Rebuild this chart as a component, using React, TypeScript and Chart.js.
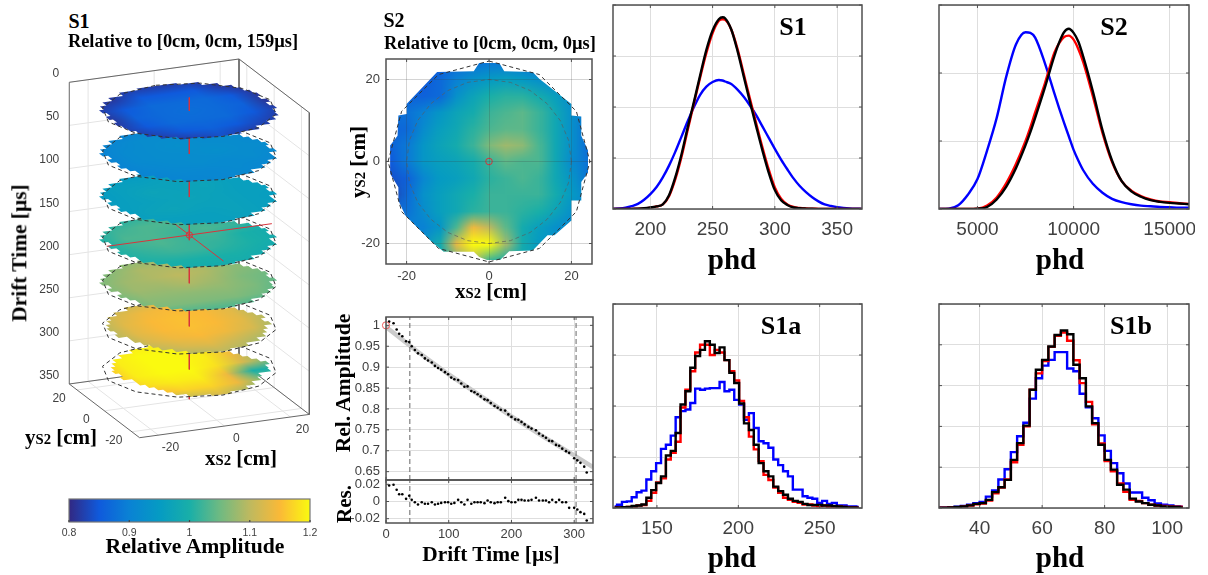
import React, { useEffect, useRef } from "react";
import { Chart, registerables } from "chart.js";

Chart.register(...registerables);

// ---------- colour map (relative amplitude -> colour) ----------
const cmapLevels = [0.8, 0.85, 0.9, 0.95, 1.0, 1.05, 1.1, 1.15, 1.2];
const cmapColors = [
  [50, 40, 130], [15, 90, 220], [10, 130, 212], [5, 155, 195], [25, 175, 168],
  [110, 186, 130], [190, 185, 95], [250, 185, 55], [250, 250, 15],
];

// ---------- top histogram S1 ----------
const s1Phd = [170,175,180,185,190,195,200,205,210,215,220,225,230,235,240,245,250,255,258,260,265,270,275,280,285,290,295,300,305,310,315,320,325,330,335,340,345,350,355,360,365,370];
const s1Black = [0,0,0,.003,.006,.015,.03,.05,.09,.27,.62,1.07,1.6,2.1,2.62,3.12,3.5,3.72,3.76,3.74,3.52,3.1,2.6,2.1,1.62,1.15,.72,.37,.17,.08,.03,.015,.008,.004,.002,0,0,0,0,0,0,0];
const s1Red = [0,0,0,.002,.005,.012,.028,.05,.09,.25,.58,1.02,1.55,2.07,2.58,3.06,3.45,3.69,3.72,3.71,3.52,3.14,2.65,2.16,1.68,1.21,.78,.42,.2,.09,.04,.02,.01,.005,.003,.001,0,0,0,0,0,0];
const s1Blue = [.003,.01,.025,.055,.1,.18,.29,.43,.62,.85,1.12,1.42,1.72,2.0,2.24,2.4,2.49,2.53,2.52,2.5,2.45,2.34,2.2,2.03,1.84,1.62,1.4,1.18,.97,.78,.6,.45,.33,.23,.15,.09,.06,.035,.02,.01,.005,.003];

// ---------- top histogram S2 ----------
const s2Phd = [3000,3500,4000,4500,5000,5500,6000,6500,7000,7500,7750,8000,8500,9000,9250,9500,9750,10000,10250,10500,11000,11500,12000,12500,13000,13500,14000,14500,15000,15500,16000];
const s2Black = [0,0,0,0,.005,.03,.14,.33,.6,.94,1.13,1.34,1.78,2.25,2.45,2.6,2.65,2.59,2.46,2.24,1.73,1.16,.71,.41,.26,.18,.13,.105,.09,.08,.07];
const s2Red = [0,0,0,0,.005,.05,.17,.38,.66,1.0,1.2,1.42,1.84,2.3,2.44,2.53,2.55,2.49,2.35,2.16,1.66,1.12,.69,.41,.27,.19,.14,.11,.1,.085,.075];
const s2Blue = [0,.005,.055,.21,.44,.86,1.34,1.95,2.42,2.6,2.59,2.52,2.15,1.7,1.48,1.27,1.07,.87,.71,.57,.37,.24,.15,.1,.07,.05,.04,.03,.025,.02,.02];

// ---------- bottom histogram S1a ----------
const s1aBins = [124,127,130,133,136,139,142,145,148,151,154,157,160,163,166,169,172,175,178,181,184,187,190,193,196,199,202,205,208,211,214,217,220,223,226,229,232,235,238,241,244,247,250,253,256,259,262,265,268,271,274];
const s1aBlack = [.01,.01,.015,.02,.04,.05,.07,.2,.35,.49,.62,1.03,1.12,1.47,2.03,2.29,2.75,2.98,3.1,3.27,3.2,3.04,3.15,2.9,2.65,2.45,2.05,1.66,1.53,1.24,.88,.72,.62,.42,.33,.26,.18,.14,.12,.08,.06,.06,.06,.05,.05,.04,.03,.02,.01,.01,.005];
const s1aRed = [.01,.01,.01,.02,.03,.05,.06,.14,.3,.5,.58,.95,1.08,1.3,1.97,2.32,2.68,3.05,3.2,3.2,3.0,3.1,3.05,2.9,2.68,2.5,2.1,1.78,1.4,1.15,.92,.65,.55,.4,.3,.2,.16,.12,.1,.07,.07,.05,.04,.05,.03,.03,.03,.02,.01,.01,.005];
const s1aBlue = [.03,.065,.12,.13,.21,.31,.34,.56,.72,.88,1.16,1.24,1.42,1.78,1.9,1.93,2.06,2.34,2.32,2.34,2.35,2.35,2.47,2.29,2.32,2.12,2.03,1.73,1.86,1.57,1.31,1.27,1.18,.95,.84,.72,.62,.36,.36,.23,.2,.18,.1,.14,.08,.1,.05,.05,.03,.03,.02];

// ---------- bottom histogram S1b ----------
const s1bBins = [27,29,31,33,35,37,39,41,43,45,47,49,51,53,55,57,59,61,63,65,67,69,71,73,75,77,79,81,83,85,87,89,91,93,95,97,99,101,103,105];
const s1bBlack = [.01,.01,.015,.025,.04,.065,.1,.12,.2,.39,.51,.69,1.18,1.59,2.02,2.9,3.39,3.63,3.96,4.24,4.35,4.26,3.51,3.18,2.49,2.08,1.55,1.18,.94,.57,.45,.23,.16,.12,.08,.06,.04,.03,.025,.015];
const s1bRed = [.01,.01,.015,.02,.04,.06,.09,.11,.18,.36,.5,.7,1.12,1.55,2.0,2.9,3.3,3.6,3.95,4.22,4.3,4.1,3.62,3.06,2.6,2.05,1.58,1.15,.9,.6,.4,.2,.17,.12,.08,.06,.05,.04,.03,.03];
const s1bBlue = [.01,.01,.02,.03,.05,.08,.12,.15,.28,.43,.7,.95,1.37,1.76,2.09,2.68,3.18,3.49,3.63,3.82,3.82,3.42,3.35,2.8,2.47,2.2,1.78,1.4,1.1,.85,.6,.38,.38,.25,.19,.11,.08,.06,.04,.03];

// ---------- relative amplitude vs drift time ----------
const driftTimes = [5,12,17,21,26,32,37,41,46,51,57,62,67,73,78,83,88,94,99,104,109,115,120,125,130,136,141,146,151,157,162,167,173,178,183,190,195,200,206,211,216,221,227,232,239,244,250,255,260,265,271,276,281,287,292,300,305,310,316,320];
const relAmplitude = [1.009,1.005,.99,.98,.974,.962,.96,.95,.941,.933,.929,.921,.916,.911,.903,.898,.894,.888,.883,.875,.871,.869,.861,.853,.854,.843,.84,.835,.83,.823,.821,.814,.807,.803,.798,.796,.787,.781,.775,.774,.769,.763,.757,.753,.749,.741,.736,.731,.724,.723,.714,.712,.705,.699,.695,.682,.677,.671,.662,.648];
const residuals = [.0186,.0194,.0136,.0085,.0085,.0031,.0066,.0019,-.0008,-.0035,-.0008,-.0027,-.0027,-.0008,-.0035,-.0027,-.0016,-.0008,-.0008,-.0027,-.0016,.0019,-.0008,-.0035,.0019,-.0027,-.0008,-.0008,-.0008,-.0019,.0012,-.0008,-.0019,-.0008,-.0008,.0043,.0004,-.0008,-.0008,.0019,.0019,.0012,.0012,.0019,.0043,.0012,.0012,.0012,-.0008,.0019,-.0008,.0019,-.0008,-.0008,-.0074,-.0074,-.0093,-.0124,-.0144,-.0221];
const fitTimes = [0,25,50,100,150,200,250,300,330];
const fitValues = [.996,.967,.9375,.8825,.832,.782,.7345,.689,.661];
const cutTimes = [38,303];

// ---------- S2 map (rows y = 24 .. -24, cols x = -24 .. 24) ----------
const mapAxis = [-24,-20,-16,-12,-8,-4,0,4,8,12,16,20,24];
const s2Map = [
  [.85,.85,.85,.85,.87,.88,.89,.89,.88,.87,.88,.9,.9],
  [.85,.85,.85,.87,.9,.93,.95,.96,.95,.93,.91,.9,.9],
  [.86,.86,.86,.87,.93,.97,1.0,1.01,1.01,.99,.96,.92,.9],
  [.88,.88,.9,.94,.97,.99,1.02,1.03,1.04,1.02,.98,.93,.88],
  [.86,.87,.92,.96,.98,1.01,1.03,1.04,1.04,1.02,.98,.93,.87],
  [.86,.89,.94,.97,.99,1.02,1.06,1.08,1.07,1.03,.98,.93,.87],
  [.85,.89,.94,.96,.97,.99,1.02,1.04,1.03,1.03,.98,.92,.88],
  [.84,.86,.91,.95,.96,.98,1.01,1.02,1.03,1.02,.98,.94,.88],
  [.82,.87,.93,.96,.98,1.0,1.02,1.02,1.02,1.02,.99,.95,.9],
  [.87,.88,.92,.96,.98,1.01,1.02,1.02,1.01,1.0,.97,.93,.9],
  [.9,.9,.9,.94,1.03,1.14,1.1,1.04,.99,.96,.93,.91,.9],
  [.92,.92,.93,.99,1.13,1.2,1.2,1.08,.99,.95,.93,.92,.92],
  [.95,.95,.95,.97,1.05,1.1,1.02,1.0,.98,.97,.95,.95,.95],
];
const s2BoundaryX = [-2.4,2.5,3.7,10.6,12.2,20,20,22.4,22.4,24.4,24.4,22.4,22.4,20,20,15.9,14.2,10.6,4.9,2.7,0,-2.4,-3.7,-11,-13.8,-20.3,-22,-22,-24,-24,-22.2,-22,-20,-20,-12.6,-3.7];
const s2BoundaryY = [24,24,22,21.8,20.2,14,11.2,11,6.3,1.9,-2.2,-5,-9.5,-9.5,-14.4,-18,-18,-21.7,-21.9,-24,-24.2,-23.3,-22,-22,-19.7,-13.2,-9.5,-6.3,-3,3.9,6.3,11.2,11.6,14,21.8,22];
const tpcOutlineX = [0,12.25,21.2,24.5,21.2,12.25,0,-12.25,-21.2,-24.5,-21.2,-12.25,0];
const tpcOutlineY = [24.5,21.2,12.25,0,-12.25,-21.2,-24.5,-21.2,-12.25,0,12.25,21.2,24.5];
const wallCircleX = [20,19.3,17.3,14.1,10,5.2,0,-5.2,-10,-14.1,-17.3,-19.3,-20,-19.3,-17.3,-14.1,-10,-5.2,0,5.2,10,14.1,17.3,19.3,20];
const wallCircleY = [0,5.2,10,14.1,17.3,19.3,20,19.3,17.3,14.1,10,5.2,0,-5.2,-10,-14.1,-17.3,-19.3,-20,-19.3,-17.3,-14.1,-10,-5.2,0];

// ---------- S1 slices (rows y = 24 .. -24, cols x = -24 .. 24) ----------
const sliceTimes = [15.5,65.5,115.5,165.5,215.5,265.5,315.5];
const sliceAxis = [-24,-16,-8,0,8,16,24];
const slice1 = [
  [.81,.81,.82,.82,.82,.81,.81],[.81,.82,.85,.85,.85,.82,.81],[.82,.85,.87,.87,.87,.85,.81],[.81,.86,.87,.875,.87,.86,.81],[.82,.85,.87,.87,.87,.85,.82],[.81,.83,.85,.86,.85,.83,.81],[.81,.81,.82,.84,.82,.81,.81],
];
const slice2 = [
  [.9,.9,.9,.91,.91,.91,.91],[.9,.91,.92,.92,.92,.92,.91],[.9,.915,.92,.925,.92,.92,.91],[.9,.915,.92,.92,.925,.92,.92],[.9,.91,.915,.92,.915,.92,.91],[.9,.905,.91,.91,.915,.91,.91],[.9,.9,.905,.91,.91,.91,.91],
];
const slice3 = [
  [.95,.95,.95,.96,.96,.96,.96],[.95,.96,.96,.965,.965,.96,.96],[.95,.96,.97,.965,.97,.96,.96],[.955,.96,.965,.97,.965,.96,.96],[.95,.965,.97,.965,.965,.96,.955],[.955,.96,.96,.96,.965,.96,.96],[.95,.95,.96,.96,.96,.96,.96],
];
const slice4 = [
  [1.0,1.0,1.01,1.02,1.02,1.01,1.0],[1.0,1.02,1.03,1.03,1.02,1.01,1.0],[1.0,1.03,1.03,1.02,1.03,1.02,1.0],[1.0,1.02,1.03,1.02,1.02,1.0,.99],[1.0,1.01,1.02,1.02,1.01,1.0,.99],[.99,1.0,1.0,1.0,1.0,.99,.98],[.98,.99,.99,.99,.99,.98,.98],
];
const slice5 = [
  [1.05,1.06,1.07,1.08,1.08,1.06,1.05],[1.05,1.07,1.09,1.09,1.09,1.07,1.05],[1.06,1.08,1.09,1.1,1.09,1.07,1.06],[1.06,1.08,1.08,1.09,1.08,1.06,1.05],[1.05,1.07,1.07,1.07,1.07,1.06,1.04],[1.04,1.06,1.06,1.06,1.06,1.05,1.03],[1.01,1.02,1.03,1.03,1.03,1.02,1.01],
];
const slice6 = [
  [1.09,1.1,1.11,1.13,1.13,1.11,1.09],[1.09,1.12,1.14,1.15,1.15,1.13,1.09],[1.09,1.13,1.15,1.155,1.15,1.13,1.09],[1.09,1.13,1.15,1.155,1.15,1.13,1.09],[1.08,1.12,1.14,1.15,1.14,1.12,1.08],[1.07,1.1,1.12,1.13,1.11,1.09,1.06],[1.06,1.08,1.09,1.1,1.09,1.06,1.05],
];
const slice7 = [
  [1.14,1.17,1.19,1.19,1.18,1.14,1.1],[1.15,1.19,1.2,1.2,1.19,1.16,1.1],[1.15,1.19,1.2,1.2,1.19,1.14,1.08],[1.15,1.19,1.2,1.2,1.18,1.12,1.06],[1.14,1.18,1.19,1.19,1.14,1.0,1.0],[1.08,1.15,1.17,1.17,1.14,1.06,1.02],[1.0,1.06,1.1,1.12,1.08,1.04,1.02],
];
const sliceMaps = [slice1, slice2, slice3, slice4, slice5, slice6, slice7];

// rows of the detector mask: y = 24, 21, ... -24 (3 cm bands), right and left edge of each row
const maskRows = [24,21,18,15,12,9,6,3,0,-3,-6,-9,-12,-15,-18,-21,-24];
const sliceRight = [
  [6,12,16.5,19.5,21,22.5,23.5,22.5,24,22.5,23.5,22,21.5,19.5,16.5,12,6],
  [4.5,7.5,10.5,13.5,16.5,19.5,21,22.5,23.5,22.5,23.5,21,21,18,15,10.5,4.5],
  [4.5,7.5,10.5,13.5,16.5,19.5,21,22.5,23.5,22.5,23.5,21,21,18,15,10.5,4.5],
  [4.5,7.5,10.5,13.5,15,18,21,22.5,23.5,22.5,23.5,21,21,18,15,10.5,4.5],
  [4.5,7.5,10.5,13.5,16.5,19.5,21,22.5,23.5,22.5,23.5,21,20.5,18,15,10.5,4.5],
  [3,6,9,12,15,18,19.5,21,22.5,21,22,19.5,18,16.5,13.5,9,3],
  [3,6,9,10.5,13.5,16.5,18,19.5,21,22.5,21,20.5,16.5,15,12,9,3],
];
const sliceLeft = [
  [-6,-12,-16.5,-19.5,-21.5,-23,-22,-23.5,-22.5,-23.5,-22.5,-22,-20.5,-19.5,-16.5,-12,-6],
  [-6,-12,-16.5,-19.5,-21.5,-23,-21.5,-23,-21.5,-22.5,-21,-19.5,-19.5,-16.5,-13.5,-10.5,-4.5],
  [-6,-12,-16.5,-19.5,-21.5,-23,-21.5,-23,-21.5,-22.5,-21,-19.5,-19.5,-16.5,-13.5,-10.5,-4.5],
  [-6,-12,-16.5,-19.5,-21.5,-23,-21.5,-23,-21.5,-22.5,-21,-19.5,-19.5,-16.5,-13.5,-10.5,-4.5],
  [-6,-12,-16.5,-19.5,-21.5,-23,-21.5,-23,-21,-22.5,-21,-19.5,-19.5,-16.5,-13.5,-10.5,-4.5],
  [-4.5,-10.5,-15,-18,-19.5,-21,-22,-21,-22,-19.5,-19.5,-18,-16.5,-15,-12,-9,-3],
  [-3,-9,-13.5,-16.5,-18,-19.5,-20.5,-19.5,-20.5,-18,-18,-16.5,-15,-13.5,-12,-9,-3],
];
const referenceTime = 159.5;

// ---------- tick labels ----------
const driftTicks = [0,50,100,150,200,250,300,350];
const cubeTicks = [-20,0,20];
const colorbarTicks = [0.8,0.9,1,1.1,1.2];
const colorbarLabels = ["0.8","0.9","1","1.1","1.2"];
const relTicks = [0.65,0.7,0.75,0.8,0.85,0.9,0.95,1];
const relLabels = ["0.65","0.7","0.75","0.8","0.85","0.9","0.95","1"];
const resTicks = [-0.02,0,0.02];
const resLabels = ["-0.02","0","0.02"];
const driftAxisTicks = [0,100,200,300];

const TICK_COLOR = "#404040";
const GRID = "#dedede";
const FRAME = "#505050";
const SANS = "'Liberation Sans', Arial, sans-serif";
const SERIF = "'Liberation Serif', 'Times New Roman', serif";

function colorOf(v: number): number[] {
  const c = Math.max(cmapLevels[0], Math.min(cmapLevels[cmapLevels.length - 1], v));
  let i = 0;
  while (i < cmapLevels.length - 2 && c > cmapLevels[i + 1]) i++;
  const f = (c - cmapLevels[i]) / (cmapLevels[i + 1] - cmapLevels[i]);
  return cmapColors[i].map((a, k) => a + (cmapColors[i + 1][k] - a) * f);
}

function matrixCanvas(m: number[][]) {
  const n = m.length;
  const off = document.createElement("canvas");
  off.width = m[0].length;
  off.height = n;
  const g = off.getContext("2d")!;
  const img = g.createImageData(off.width, n);
  m.forEach((row, r) =>
    row.forEach((v, c) => {
      const col = colorOf(v);
      const o = (r * off.width + c) * 4;
      img.data[o] = col[0]; img.data[o + 1] = col[1]; img.data[o + 2] = col[2]; img.data[o + 3] = 255;
    })
  );
  g.putImageData(img, 0, 0);
  return off;
}

function paintMatrix(ctx: any, m: number[][], axis: number[], outline: number[][], toPixel: (x: number, y: number) => number[]) {
  const off = matrixCanvas(m);
  const n = axis.length - 1;
  const lo = axis[0], hi = axis[n];
  const p00 = toPixel(lo, hi), p10 = toPixel(hi, hi), p01 = toPixel(lo, lo);
  ctx.save();
  ctx.beginPath();
  outline.forEach((p, i) => {
    const q = toPixel(p[0], p[1]);
    if (i === 0) ctx.moveTo(q[0], q[1]); else ctx.lineTo(q[0], q[1]);
  });
  ctx.closePath();
  ctx.clip();
  ctx.imageSmoothingEnabled = true;
  ctx.transform((p10[0] - p00[0]) / n, (p10[1] - p00[1]) / n, (p01[0] - p00[0]) / n, (p01[1] - p00[1]) / n, p00[0], p00[1]);
  ctx.drawImage(off, 0.5, 0.5, n, n, 0, 0, n, n);
  ctx.restore();
}

const framePlugin = {
  id: "frame",
  afterDraw(chart: any) {
    const { ctx, chartArea: a, scales } = chart;
    ctx.save();
    ctx.strokeStyle = FRAME;
    ctx.lineWidth = 1;
    ctx.beginPath();
    scales.x.ticks.forEach((t: any) => {
      const p = scales.x.getPixelForValue(t.value);
      ctx.moveTo(p, a.bottom); ctx.lineTo(p, a.bottom - 3);
      ctx.moveTo(p, a.top); ctx.lineTo(p, a.top + 3);
    });
    scales.y.ticks.forEach((t: any) => {
      const p = scales.y.getPixelForValue(t.value);
      ctx.moveTo(a.left, p); ctx.lineTo(a.left + 3, p);
      ctx.moveTo(a.right, p); ctx.lineTo(a.right - 3, p);
    });
    ctx.stroke();
    ctx.lineWidth = 1.5;
    ctx.strokeRect(a.left, a.top, a.right - a.left, a.bottom - a.top);
    ctx.restore();
  },
};

function xAxis(min: number, max: number, ticks: number[], size: number, height: number, padding: number, labels?: string[] | null, gridZ = 0) {
  return {
    type: "linear", min, max,
    afterBuildTicks(s: any) { s.ticks = ticks.map((value) => ({ value })); },
    afterFit(s: any) { s.paddingLeft = 0; s.paddingRight = 0; s.height = height; },
    border: { display: false },
    grid: { color: gridZ ? "rgba(60,60,60,0.22)" : GRID, drawTicks: false, z: gridZ },
    ticks: {
      display: labels !== null, autoSkip: false, maxRotation: 0, minRotation: 0, padding, color: TICK_COLOR,
      font: { family: SANS, size },
      callback: (v: number) => (labels ? labels[ticks.indexOf(v)] : String(v)),
    },
  };
}
function yAxis(min: number, max: number, ticks: number[], size: number, width: number, labels?: string[] | null, gridZ = 0) {
  return {
    type: "linear", min, max,
    afterBuildTicks(s: any) { s.ticks = ticks.map((value) => ({ value })); },
    afterFit(s: any) { s.paddingTop = 0; s.paddingBottom = 0; s.width = width; },
    border: { display: false },
    grid: { color: gridZ ? "rgba(60,60,60,0.22)" : GRID, drawTicks: false, z: gridZ },
    ticks: {
      display: labels !== null, autoSkip: false, padding: 6, color: TICK_COLOR,
      font: { family: SANS, size },
      callback: (v: number) => (labels ? labels[ticks.indexOf(v)] : String(v)),
    },
  };
}
const pairs = (xs: number[], ys: number[]) => ys.map((y, i) => ({ x: xs[i], y }));
const baseOptions = (scales: any, padding: any) => ({
  responsive: false, animation: false as const, devicePixelRatio: 1,
  layout: { padding, autoPadding: false },
  plugins: { legend: { display: false }, tooltip: { enabled: false }, title: { display: false } },
  scales,
});

function histConfig(xs: number[], blue: number[], red: number[], black: number[], step: boolean, xMin: number, xMax: number, xTicks: number[], yTop: number, yTicks: number[], rightPad: number) {
  const line = (data: number[], color: string, label: string) => ({
    label, data: pairs(xs, data), borderColor: color, backgroundColor: color, borderWidth: 2.4,
    pointRadius: 0, showLine: true, ...(step ? { stepped: "middle" } : { cubicInterpolationMode: "monotone" }),
  });
  return {
    type: "line",
    data: { datasets: [line(black, "#000000", "black"), line(red, "#ff0000", "red"), line(blue, "#0000ff", "blue")] },
    options: baseOptions(
      { x: xAxis(xMin, xMax, xTicks, 19, 35, 9), y: yAxis(0, yTop, yTicks, 10, 20, null) },
      { left: 0, top: 2, right: rightPad, bottom: 0 }
    ),
    plugins: [framePlugin],
  };
}

// ---------- 3D view transform: (x, y, drift) -> view units of the hidden scales ----------
const CUBE = 25.7;
const project = (x: number, y: number, t: number) => ({
  x: 189.3 + 3.302 * x - 1.368 * y,
  y: 97.5 - 0.453 * x - 1.045 * y + 0.862 * t,
});

function sliceOutline(k: number) {
  const right: number[][] = [], left: number[][] = [];
  maskRows.forEach((y, i) => {
    right.push([sliceRight[k][i], y + 1.5], [sliceRight[k][i], y - 1.5]);
    left.unshift([sliceLeft[k][i], y + 1.5]);
    left.unshift([sliceLeft[k][i], y - 1.5]);
  });
  return [...right, ...left];
}

const slicePlugin = {
  id: "slices",
  beforeDatasetDraw(chart: any, args: any) {
    const ds = chart.data.datasets[args.index];
    if (ds.sliceIndex === undefined) return;
    const k = ds.sliceIndex;
    const t = sliceTimes[k];
    const toPixel = (x: number, y: number) => {
      const p = project(x, y, t);
      return [chart.scales.x.getPixelForValue(p.x), chart.scales.y.getPixelForValue(p.y)];
    };
    paintMatrix(chart.ctx, sliceMaps[k], sliceAxis, sliceOutline(k), toPixel);
  },
  afterDraw(chart: any) {
    const { ctx, scales } = chart;
    const at = (x: number, y: number, t: number) => {
      const p = project(x, y, t);
      return [scales.x.getPixelForValue(p.x), scales.y.getPixelForValue(p.y)];
    };
    ctx.save();
    ctx.fillStyle = TICK_COLOR;
    ctx.font = `12px ${SANS}`;
    ctx.textBaseline = "middle";
    ctx.textAlign = "right";
    driftTicks.forEach((t) => {
      const p = at(-CUBE, CUBE, t);
      ctx.fillText(String(t), p[0] - 10, p[1] - 8.3);
    });
    ctx.textAlign = "center";
    cubeTicks.forEach((v) => {
      const p = at(-CUBE, v, 350);
      ctx.fillText(String(v), p[0] - 18, p[1] + 8.5);
      const q = at(v, -CUBE, 350);
      ctx.fillText(String(v), q[0] + 12, q[1] + 12.5);
    });
    ctx.restore();
  },
};

function cubeConfig() {
  const sets: any[] = [];
  const seg = (pts: number[][], color: string, width: number, dash: number[] = [], extra: any = {}) => {
    sets.push({
      data: pts.map((p) => project(p[0], p[1], p[2])), borderColor: color, borderWidth: width, borderDash: dash,
      pointRadius: 0, showLine: true, fill: false, clip: false, tension: 0, ...extra,
    });
  };
  const C = CUBE;
  driftTicks.forEach((t) => seg([[-C, C, t], [C, C, t], [C, -C, t]], "#e4e4e4", 1));
  cubeTicks.forEach((v) => {
    seg([[v, -C, 350], [v, C, 350], [v, C, 0]], "#e4e4e4", 1);
    seg([[-C, v, 350], [C, v, 350], [C, v, 0]], "#e4e4e4", 1);
  });
  const EDGE = "#666666";
  seg([[-C, C, 350], [-C, C, 0], [C, C, 0], [C, -C, 0], [C, -C, 350], [-C, -C, 350], [-C, C, 350], [C, C, 350], [C, -C, 350]], EDGE, 1);
  seg([[C, C, 0], [C, C, 350]], EDGE, 1);
  const RED = "#d8343c";
  seg([[0, 0, sliceTimes[6]], [0, 0, 350]], RED, 1);
  const outline = tpcOutlineX.map((x, i) => [x, tpcOutlineY[i]]);
  for (let k = sliceTimes.length - 1; k >= 0; k--) {
    const t = sliceTimes[k];
    seg(outline.map((p) => [p[0], p[1], t]), "#333333", 1, [4, 3], { sliceIndex: k });
    seg([[0, 0, k ? sliceTimes[k - 1] : 0], [0, 0, t]], RED, 1);
    if (k === 3) {
      seg([[-25, 0, referenceTime], [25, 0, referenceTime]], RED, 1);
      seg([[0, -25, referenceTime], [0, 10, referenceTime]], RED, 1);
      sets.push({
        data: [project(0, 0, referenceTime)], pointRadius: 3.2, pointBackgroundColor: "transparent",
        pointBorderColor: RED, pointBorderWidth: 1, showLine: false, clip: false,
      });
    }
  }
  sets.forEach((s, i) => { s.order = sets.length - i; });
  return {
    type: "scatter",
    data: { datasets: sets },
    options: baseOptions(
      {
        x: { type: "linear", display: false, min: 0, max: 340 },
        y: { type: "linear", display: false, min: 50, max: 470, reverse: true },
      },
      0
    ),
    plugins: [slicePlugin],
  };
}

const s2MapPlugin = {
  id: "s2map",
  beforeDatasetsDraw(chart: any) {
    const { scales } = chart;
    paintMatrix(
      chart.ctx, s2Map, mapAxis, s2BoundaryX.map((x, i) => [x, s2BoundaryY[i]]),
      (x, y) => [scales.x.getPixelForValue(x), scales.y.getPixelForValue(y)]
    );
  },
};
function mapConfig() {
  const outline = (xs: number[], ys: number[], color: string, label: string) => ({
    label, data: pairs(xs, ys), borderColor: color, borderWidth: 1, borderDash: [4, 3], pointRadius: 0, showLine: true, clip: false,
  });
  return {
    type: "scatter",
    data: {
      datasets: [
        outline(wallCircleX, wallCircleY, "rgba(90,90,90,0.65)", "wall"),
        outline(tpcOutlineX, tpcOutlineY, "#333333", "tpc"),
        { label: "reference", data: [{ x: 0, y: 0 }], pointRadius: 3.3, pointBackgroundColor: "transparent", pointBorderColor: "#d8343c", pointBorderWidth: 1 },
      ],
    },
    options: baseOptions(
      { x: xAxis(-25, 25, cubeTicks, 13, 24, 5, undefined, 1), y: yAxis(-25, 25, cubeTicks, 13, 40, undefined, 1) },
      { left: 0, top: 2, right: 4, bottom: 0 }
    ),
    plugins: [framePlugin, s2MapPlugin],
  };
}
const dashSet = (t: number, lo: number, hi: number) => ({
  data: [{ x: t, y: lo }, { x: t, y: hi }], borderColor: "#666666", borderWidth: 1, borderDash: [5, 3], pointRadius: 0, showLine: true,
});
function relConfig() {
  return {
    type: "scatter",
    data: {
      datasets: [
        { data: [{ x: 0, y: 1 }], pointRadius: 3.6, pointBackgroundColor: "transparent", pointBorderColor: "#ee5a5a", pointBorderWidth: 1, clip: false, order: 0 },
        { data: pairs(driftTimes, relAmplitude), pointRadius: 1.3, pointBackgroundColor: "#000", pointBorderWidth: 0, order: 1 },
        { ...dashSet(cutTimes[0], 0.63, 1.02), order: 2 },
        { ...dashSet(cutTimes[1], 0.63, 1.02), order: 2 },
        { data: pairs(fitTimes, fitValues), borderColor: "#cbcbcb", borderWidth: 4.5, pointRadius: 0, showLine: true, order: 3 },
      ],
    },
    options: baseOptions(
      { x: xAxis(0, 330, driftAxisTicks, 13, 1, 0, null), y: yAxis(0.63, 1.02, relTicks, 13, 40, relLabels) },
      { left: 0, top: 2, right: 4, bottom: 0 }
    ),
    plugins: [framePlugin],
  };
}
function resConfig() {
  return {
    type: "scatter",
    data: {
      datasets: [
        { data: pairs(driftTimes, residuals), pointRadius: 1.3, pointBackgroundColor: "#000", pointBorderWidth: 0, order: 0 },
        { ...dashSet(cutTimes[0], -0.025, 0.025), order: 1 },
        { ...dashSet(cutTimes[1], -0.025, 0.025), order: 1 },
      ],
    },
    options: baseOptions(
      { x: xAxis(0, 330, driftAxisTicks, 13, 24, 4), y: yAxis(-0.025, 0.025, resTicks, 13, 40, resLabels) },
      { left: 0, top: 1, right: 4, bottom: 0 }
    ),
    plugins: [framePlugin],
  };
}
const colorbarPlugin = {
  id: "bar",
  beforeDatasetsDraw(chart: any) {
    const { ctx, scales, chartArea: a } = chart;
    const g = ctx.createLinearGradient(a.left, 0, a.right, 0);
    cmapLevels.forEach((v, i) => {
      const c = cmapColors[i];
      g.addColorStop((scales.x.getPixelForValue(v) - a.left) / (a.right - a.left), `rgb(${c[0]},${c[1]},${c[2]})`);
    });
    ctx.fillStyle = g;
    ctx.fillRect(a.left, a.top, a.right - a.left, a.bottom - a.top);
    ctx.strokeStyle = "#777";
    ctx.lineWidth = 1.2;
    ctx.strokeRect(a.left, a.top, a.right - a.left, a.bottom - a.top);
    ctx.strokeStyle = "#444";
    ctx.beginPath();
    scales.x.ticks.forEach((t: any) => {
      const p = scales.x.getPixelForValue(t.value);
      ctx.moveTo(p, a.bottom); ctx.lineTo(p, a.bottom - 2);
    });
    ctx.stroke();
  },
};
function barConfig() {
  return {
    type: "scatter",
    data: { datasets: [{ data: cmapLevels.map((x) => ({ x, y: 0 })), pointRadius: 0, showLine: false }] },
    options: baseOptions(
      {
        x: { ...xAxis(0.8, 1.2, colorbarTicks, 10.5, 22, 5, colorbarLabels), grid: { display: false, drawTicks: false } },
        y: { type: "linear", min: -1, max: 1, display: false },
      },
      { left: 12, top: 1, right: 12, bottom: 0 }
    ),
    plugins: [colorbarPlugin],
  };
}

function Panel({ make, left, top, width, height }: any) {
  const ref = useRef<HTMLCanvasElement>(null);
  useEffect(() => {
    const c = new Chart(ref.current!, make());
    return () => c.destroy();
  }, [make]);
  return <canvas ref={ref} width={width} height={height} style={{ position: "absolute", left, top, width, height, display: "block" }} />;
}

function Label({ x, y, size, rotate, children }: any) {
  return (
    <div
      style={{
        position: "absolute", left: x, top: y, fontFamily: SERIF, fontWeight: 700, fontSize: size, lineHeight: 1, color: "#000",
        whiteSpace: "nowrap", transform: `translate(-50%,-50%)${rotate ? ` rotate(${rotate}deg)` : ""}`,
      }}
    >
      {children}
    </div>
  );
}
const Sub = () => <span style={{ fontSize: "0.7em" }}>S2</span>;

const makeS1 = () => histConfig(s1Phd, s1Blue, s1Red, s1Black, false, 170, 370, [200,250,300,350], 4, [0,1,2,3,4], 8);
const makeS2 = () => histConfig(s2Phd, s2Blue, s2Red, s2Black, false, 3000, 16000, [5000,10000,15000], 3, [0,1,2,3], 6);
const makeS1a = () => histConfig(s1aBins, s1aBlue, s1aRed, s1aBlack, true, 123, 276, [150,200,250], 4, [0,1,2,3,4], 8);
const makeS1b = () => histConfig(s1bBins, s1bBlue, s1bRed, s1bBlack, true, 27, 107, [40,60,80,100], 5, [0,1,2,3,4,5], 8);

export default function App() {
  return (
    <div style={{ position: "fixed", left: 0, top: 0, width: 1208, height: 575, overflow: "hidden", background: "#fff", filter: "blur(0.35px)" }}>
      <Panel make={cubeConfig} left={0} top={50} width={340} height={420} />
      <Panel make={barConfig} left={57} top={498} width={265} height={46} />
      <Panel make={mapConfig} left={346} top={57} width={250} height={231} />
      <Panel make={relConfig} left={346} top={315} width={251} height={166} />
      <Panel make={resConfig} left={346} top={479} width={251} height={68} />
      <Panel make={makeS1} left={593} top={3} width={277} height={241} />
      <Panel make={makeS2} left={919} top={3} width={276} height={241} />
      <Panel make={makeS1a} left={593} top={302} width={277} height={241} />
      <Panel make={makeS1b} left={919} top={302} width={278} height={241} />

      <Label x={79} y={21} size={20}>S1</Label>
      <Label x={183} y={41} size={18.4}>Relative to [0cm, 0cm, 159µs]</Label>
      <Label x={20} y={253} size={21.4} rotate={-90}>Drift Time [µs]</Label>
      <Label x={61} y={437} size={21}>y<Sub /> [cm]</Label>
      <Label x={241} y={458} size={21}>x<Sub /> [cm]</Label>
      <Label x={195} y={547} size={21.7}>Relative Amplitude</Label>

      <Label x={394} y={20} size={20}>S2</Label>
      <Label x={490} y={43} size={18.4}>Relative to [0cm, 0cm, 0µs]</Label>
      <Label x={358} y={162} size={21} rotate={-90}>y<Sub /> [cm]</Label>
      <Label x={491} y={291} size={21}>x<Sub /> [cm]</Label>
      <Label x={344} y={383} size={21.5} rotate={-90}>Rel. Amplitude</Label>
      <Label x={344} y={504} size={21} rotate={-90}>Res.</Label>
      <Label x={491} y={555} size={21.4}>Drift Time [µs]</Label>

      <Label x={793} y={27} size={26}>S1</Label>
      <Label x={1114} y={27} size={26}>S2</Label>
      <Label x={781} y={326} size={26}>S1a</Label>
      <Label x={1131} y={326} size={26}>S1b</Label>
      <Label x={732} y={259} size={29}>phd</Label>
      <Label x={1060} y={259} size={29}>phd</Label>
      <Label x={732} y={557} size={29}>phd</Label>
      <Label x={1060} y={557} size={29}>phd</Label>
    </div>
  );
}
